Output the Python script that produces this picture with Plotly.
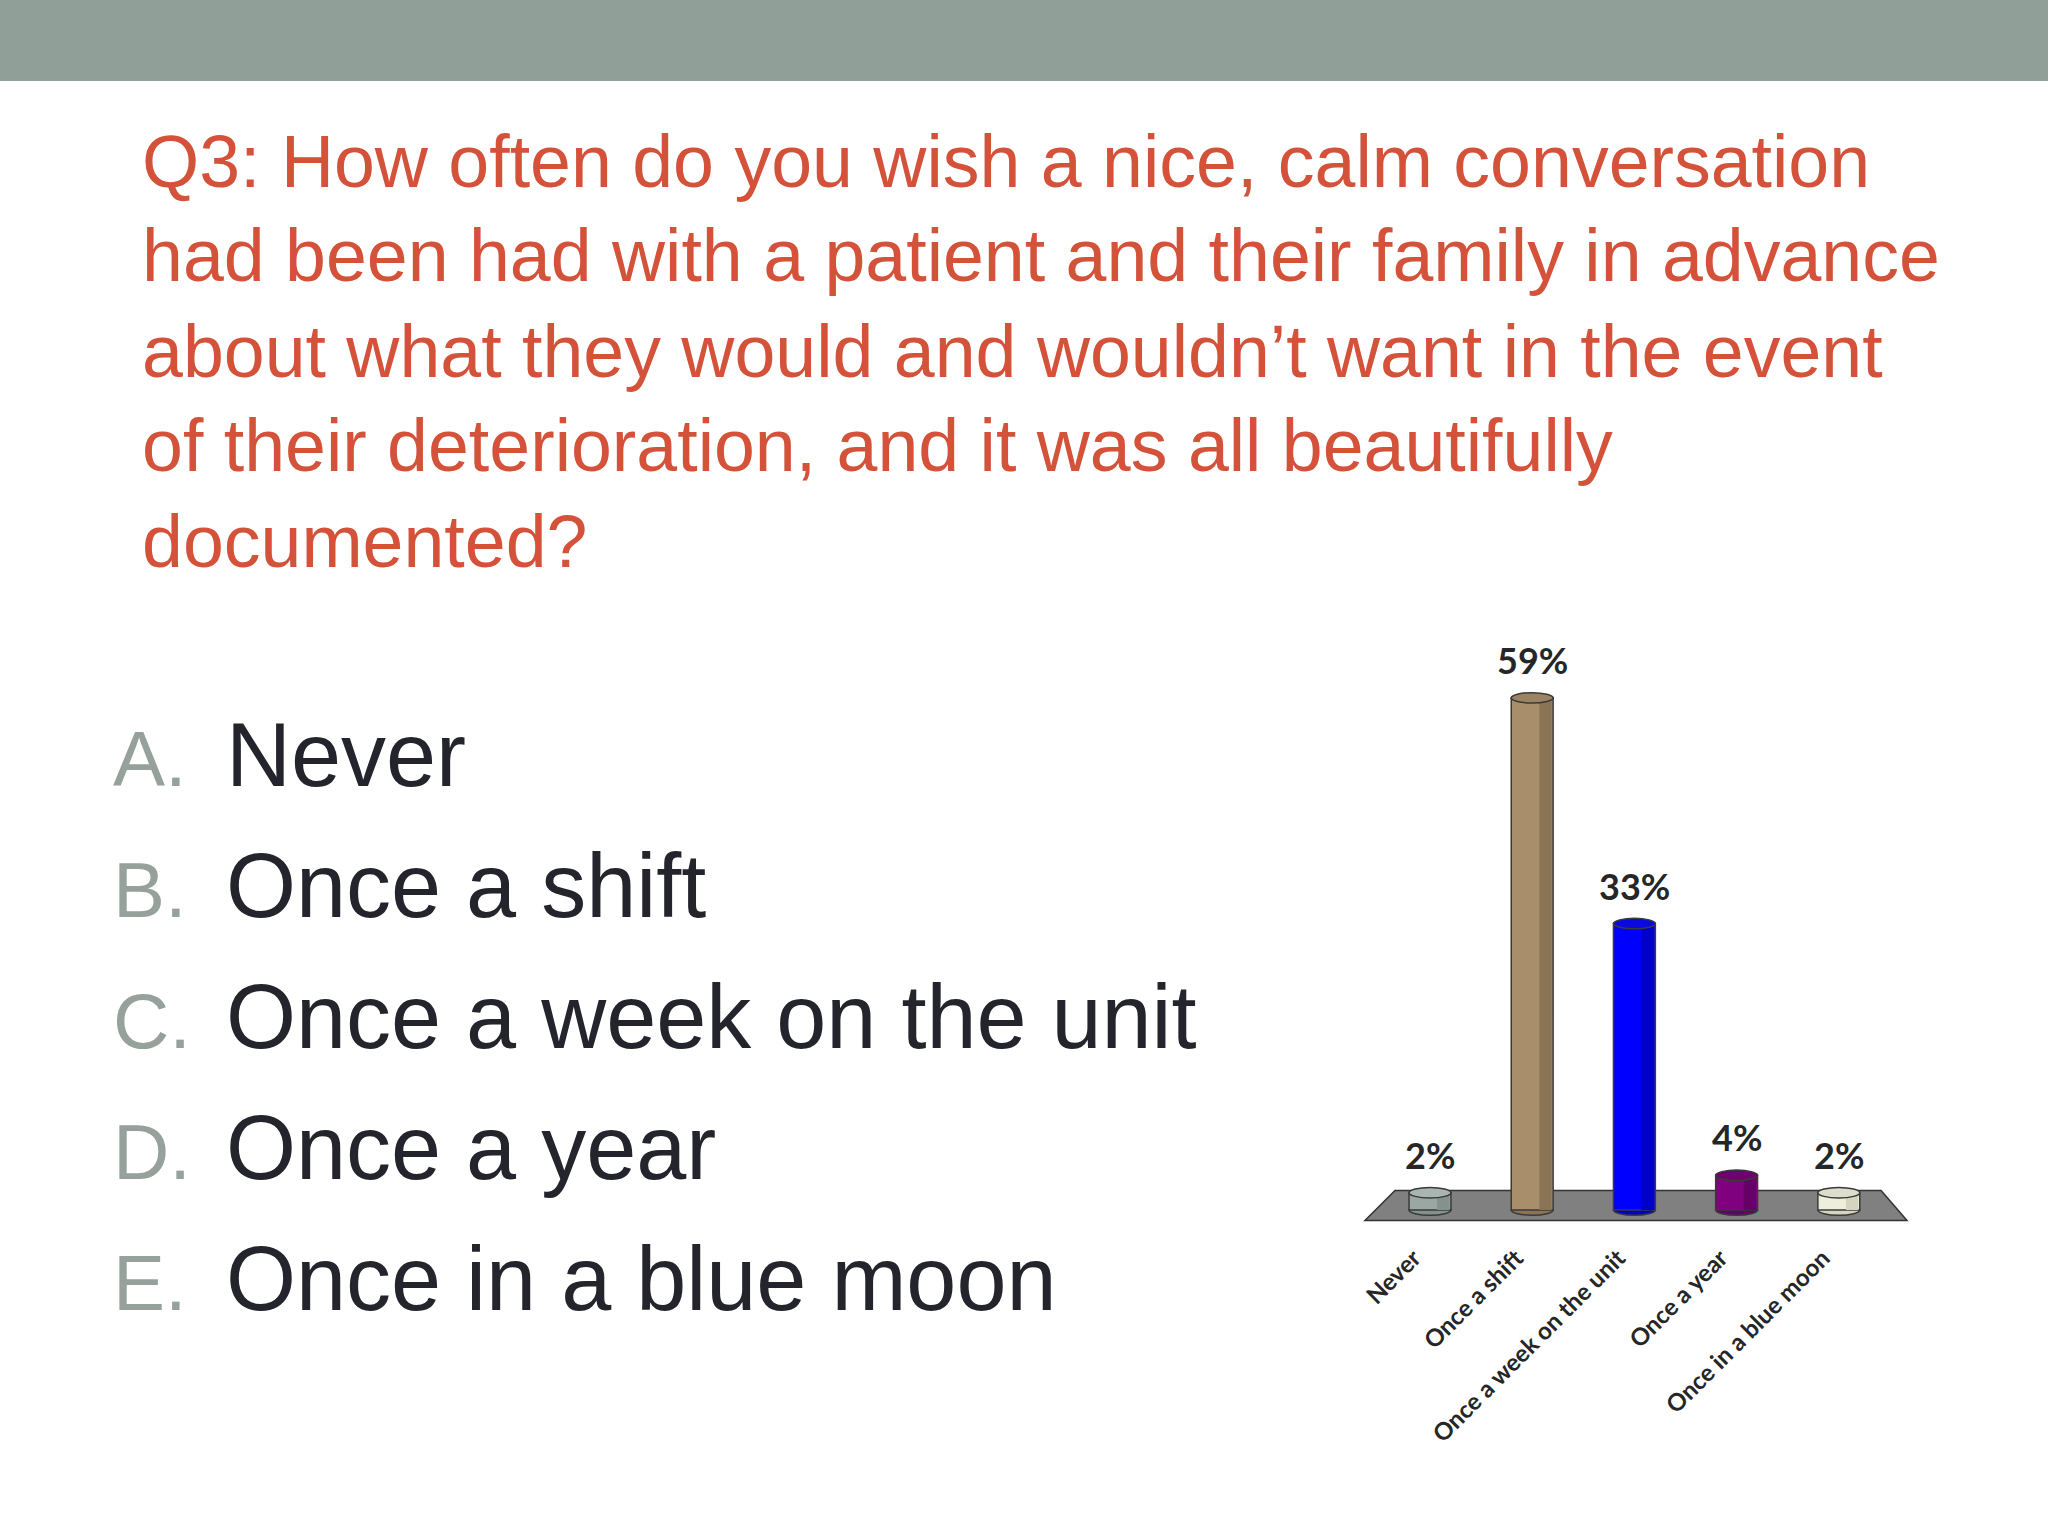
import plotly.graph_objects as go

# ---------------- data ----------------
categories = ["Never", "Once a shift", "Once a week on the unit", "Once a year", "Once in a blue moon"]
values = [2, 59, 33, 4, 2]
bar_colors = ["#9AA7A3", "#A88E6A", "#0000FF", "#800080", "#EEEEDC"]
shade_colors = ["#84918D", "#8A7456", "#0000C8", "#660066", "#D4D4C0"]
top_colors = ["#A9B5B1", "#9C8462", "#0A0AE0", "#700070", "#DDDDCB"]

title_lines = [
    "Q3: How often do you wish a nice, calm conversation",
    "had been had with a patient and their family in advance",
    "about what they would and wouldn\u2019t want in the event",
    "of their deterioration, and it was all beautifully",
    "documented?",
]
option_letters = ["A.", "B.", "C.", "D.", "E."]
option_texts = ["Never", "Once a shift", "Once a week on the unit", "Once a year", "Once in a blue moon"]

# ---------------- styling ----------------
W, H = 2048, 1536
SANS = "Liberation Sans, Arial, sans-serif"
CHART_FONT = "Lato, Open Sans, sans-serif"
TITLE_COLOR = "#D35239"
TEXT_COLOR = "#24242C"
LETTER_COLOR = "#97A19C"
LABEL_COLOR = "#262626"
BAR_W = 0.41

fig = go.Figure()

fig.add_trace(go.Bar(
    x=categories, y=values, width=BAR_W, offset=-BAR_W / 2,
    marker=dict(color=bar_colors, line=dict(color="#3A3A3A", width=1.5)),
    showlegend=False, hoverinfo="x+y",
))
fig.add_trace(go.Bar(
    x=categories, y=values, width=0.12, offset=0.07,
    marker=dict(color=shade_colors, line=dict(width=0)),
    showlegend=False, hoverinfo="skip",
))

shapes = []
# top banner
shapes.append(dict(type="rect", xref="paper", yref="paper", x0=0, x1=1,
                   y0=1 - 81 / H, y1=1, fillcolor="#919F99", line=dict(width=0), layer="below"))
# floor of the 3D chart
shapes.append(dict(type="path", xref="x", yref="y",
                   path="M -0.636,-1.2 L 4.667,-1.2 L 4.413,2.26 L -0.342,2.26 Z",
                   fillcolor="#808080", line=dict(color="#333333", width=1.5), layer="below"))
# cylinder ends derived from the data
for i, v in enumerate(values):
    shapes.append(dict(type="circle", xref="x", yref="y",
                       x0=i - BAR_W / 2, x1=i + BAR_W / 2, y0=-0.6, y1=0.6,
                       fillcolor=shade_colors[i], line=dict(color="#3A3A3A", width=1.5), layer="below"))
    shapes.append(dict(type="circle", xref="x", yref="y",
                       x0=i - BAR_W / 2, x1=i + BAR_W / 2, y0=v - 0.6, y1=v + 0.6,
                       fillcolor=top_colors[i], line=dict(color="#3A3A3A", width=1.5), layer="above"))

annotations = []
# title lines
for k, line in enumerate(title_lines):
    annotations.append(dict(
        text=line, xref="paper", yref="paper", x=140 / W, y=1 - (161 + 95 * k) / H,
        xanchor="left", yanchor="middle", showarrow=False,
        font=dict(family=SANS, size=73.5, color=TITLE_COLOR)))
# options
for k, (letter, txt) in enumerate(zip(option_letters, option_texts)):
    base = 787 + 131 * k
    annotations.append(dict(
        text=letter, xref="paper", yref="paper", x=111 / W, y=1 - (base - 28) / H,
        xanchor="left", yanchor="middle", showarrow=False,
        font=dict(family=SANS, size=78, color=LETTER_COLOR)))
    annotations.append(dict(
        text=txt, xref="paper", yref="paper", x=224 / W, y=1 - (base - 32) / H,
        xanchor="left", yanchor="middle", showarrow=False,
        font=dict(family=SANS, size=90, color=TEXT_COLOR)))
# value labels
for c, v in zip(categories, values):
    annotations.append(dict(
        text=f"{v}%", x=c, y=v, xref="x", yref="y", yanchor="bottom", yshift=14,
        showarrow=False, font=dict(family=CHART_FONT, size=36, color=LABEL_COLOR, weight="bold")))

fig.update_layout(
    width=W, height=H,
    margin=dict(l=0, r=0, t=0, b=0),
    paper_bgcolor="#FFFFFF", plot_bgcolor="rgba(0,0,0,0)",
    barmode="overlay",
    shapes=shapes, annotations=annotations,
    xaxis=dict(domain=[1348.2 / W, 1920.6 / W], range=[-0.8, 4.8],
               showgrid=False, zeroline=False, showline=False, ticks="",
               tickangle=-45, ticklabelstandoff=11, ticklabelshift=-16,
               tickfont=dict(family=CHART_FONT, size=24, color=LABEL_COLOR, weight="bold")),
    yaxis=dict(domain=[1 - 1227.4 / H, 1 - 671.8 / H], range=[-2, 62], visible=False),
)

fig.write_html(
    "out.html",
    config={"displayModeBar": False},
    post_script="document.body.style.margin='0px';document.body.style.overflow='hidden';",
)
